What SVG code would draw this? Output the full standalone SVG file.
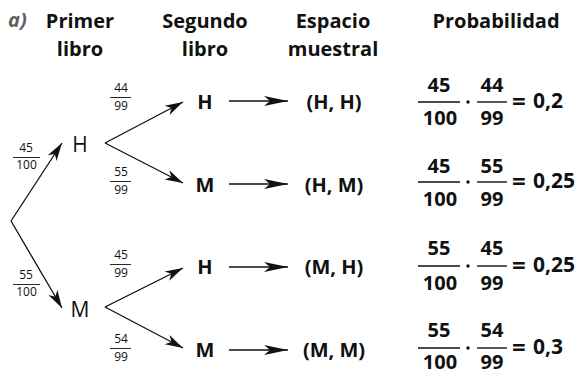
<svg xmlns="http://www.w3.org/2000/svg" width="581" height="370" viewBox="0 0 581 370">
<style>
text{font-family:"Open Sans","Liberation Sans",sans-serif;fill:#111}
.h{font-size:20px;font-weight:700;text-anchor:middle}
.n{font-size:21px;font-weight:400;text-anchor:middle}
.b{font-size:20px;font-weight:700;text-anchor:middle}
.s{font-size:12px;font-weight:400;text-anchor:middle}
.p{font-size:20px;font-weight:700;text-anchor:middle}
.eq{font-size:24px;font-weight:700}
.e{font-size:21px;font-weight:700}
.ln{stroke:#111;stroke-width:1.3;fill:none}
.fb{stroke:#111;stroke-width:0.9}
.fbb{stroke:#111;stroke-width:1.4}
</style>
<defs>
<marker id="at" markerUnits="userSpaceOnUse" viewBox="-19 -6 20 12" markerWidth="20" markerHeight="12" refX="0" refY="0" orient="auto">
<path d="M0,0 L-18,-5.2 L-13,0 L-18,5.2 Z" fill="#111"/>
</marker>
<marker id="ah" markerUnits="userSpaceOnUse" viewBox="-25 -6 26 12" markerWidth="26" markerHeight="12" refX="0" refY="0" orient="auto">
<path d="M0,0 L-24,-5 L-18,0 L-24,5 Z" fill="#111"/>
</marker>
</defs>

<g id="headers">
<text x="8" y="27" style="font-size:20px;font-weight:700;font-style:italic;fill:#5f5f5f">a)</text>
<text class="h" x="80" y="28">Primer</text>
<text class="h" x="80" y="56">libro</text>
<text class="h" x="205" y="28">Segundo</text>
<text class="h" x="205" y="56">libro</text>
<text class="h" x="333" y="28">Espacio</text>
<text class="h" x="333" y="56">muestral</text>
<text class="h" x="496" y="28">Probabilidad</text>
</g>

<g id="connectors">
<path class="ln" d="M11,221 L62,143" marker-end="url(#at)"/>
<path class="ln" d="M11,221 L62,308" marker-end="url(#at)"/>
<path class="ln" d="M105,143 L183,102" marker-end="url(#at)"/>
<path class="ln" d="M105,143 L183,183" marker-end="url(#at)"/>
<path class="ln" d="M105,307 L183,268" marker-end="url(#at)"/>
<path class="ln" d="M105,307 L183,348" marker-end="url(#at)"/>
<path class="ln" d="M229,101 L288,101" marker-end="url(#ah)"/>
<path class="ln" d="M229,184 L288,184" marker-end="url(#ah)"/>
<path class="ln" d="M229,267 L288,267" marker-end="url(#ah)"/>
<path class="ln" d="M229,350 L288,350" marker-end="url(#ah)"/>
</g>

<g id="branch-labels">
<text class="s" x="26" y="152">45</text><line class="fb" x1="13" y1="157.5" x2="40" y2="157.5"/><text class="s" x="26.5" y="168.5">100</text>
<text class="s" x="26" y="279">55</text><line class="fb" x1="13" y1="284.5" x2="40" y2="284.5"/><text class="s" x="26.5" y="295.5">100</text>
<text class="s" x="121" y="92">44</text><line class="fb" x1="110" y1="97.5" x2="131" y2="97.5"/><text class="s" x="121" y="110">99</text>
<text class="s" x="121" y="176">55</text><line class="fb" x1="110" y1="181.5" x2="131" y2="181.5"/><text class="s" x="121" y="194">99</text>
<text class="s" x="121" y="259">45</text><line class="fb" x1="110" y1="264.5" x2="131" y2="264.5"/><text class="s" x="121" y="277">99</text>
<text class="s" x="121" y="343">54</text><line class="fb" x1="110" y1="348.5" x2="131" y2="348.5"/><text class="s" x="121" y="361">99</text>
</g>

<g id="node-H1"><text class="n" x="80" y="152">H</text></g>
<g id="node-M1"><text class="n" x="80" y="317">M</text></g>

<g id="node-HH2"><text class="b" x="205" y="109">H</text></g>
<g id="node-HM2"><text class="b" x="205" y="192">M</text></g>
<g id="node-MH2"><text class="b" x="205" y="274">H</text></g>
<g id="node-MM2"><text class="b" x="205" y="357">M</text></g>

<g id="outcome-HH"><text class="b" x="334" y="109">(H, H)</text></g>
<g id="outcome-HM"><text class="b" x="334" y="192">(H, M)</text></g>
<g id="outcome-MH"><text class="b" x="334" y="274">(M, H)</text></g>
<g id="outcome-MM"><text class="b" x="334" y="357">(M, M)</text></g>

<g id="prob-1">
<text class="p" x="439" y="92">45</text><line class="fbb" x1="418" y1="102" x2="460" y2="102"/><text class="p" x="440" y="125">100</text>
<circle cx="468" cy="102" r="1.7" fill="#111"/>
<text class="p" x="492" y="92">44</text><line class="fbb" x1="477" y1="102" x2="507" y2="102"/><text class="p" x="492" y="125">99</text>
<text class="eq" x="512" y="110">=</text><text class="e" x="533" y="108">0,2</text>
</g>
<g id="prob-2">
<text class="p" x="439" y="173">45</text><line class="fbb" x1="418" y1="182" x2="460" y2="182"/><text class="p" x="440" y="206">100</text>
<circle cx="468" cy="182" r="1.7" fill="#111"/>
<text class="p" x="492" y="173">55</text><line class="fbb" x1="477" y1="182" x2="507" y2="182"/><text class="p" x="492" y="206">99</text>
<text class="eq" x="512" y="190">=</text><text class="e" x="533" y="188">0,25</text>
</g>
<g id="prob-3">
<text class="p" x="439" y="255">55</text><line class="fbb" x1="418" y1="266" x2="460" y2="266"/><text class="p" x="440" y="290">100</text>
<circle cx="468" cy="266" r="1.7" fill="#111"/>
<text class="p" x="492" y="255">45</text><line class="fbb" x1="477" y1="266" x2="507" y2="266"/><text class="p" x="492" y="290">99</text>
<text class="eq" x="512" y="274">=</text><text class="e" x="533" y="272">0,25</text>
</g>
<g id="prob-4">
<text class="p" x="439" y="337">55</text><line class="fbb" x1="418" y1="348" x2="460" y2="348"/><text class="p" x="440" y="369">100</text>
<circle cx="468" cy="348" r="1.7" fill="#111"/>
<text class="p" x="492" y="337">54</text><line class="fbb" x1="477" y1="348" x2="507" y2="348"/><text class="p" x="492" y="369">99</text>
<text class="eq" x="512" y="356">=</text><text class="e" x="533" y="354">0,3</text>
</g>
</svg>
